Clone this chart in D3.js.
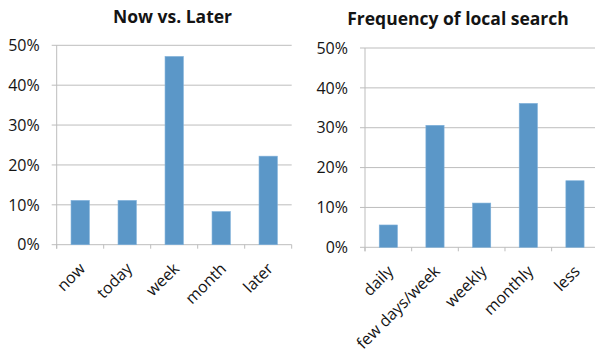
<!DOCTYPE html>
<html>
<head>
<meta charset="utf-8">
<script src="https://cdn.jsdelivr.net/npm/d3@7"></script>
<style>
  html, body { margin: 0; padding: 0; background: #fff; }
  svg { display: block; }
  text { font-family: "Open Sans", Lato, sans-serif; fill: #141414; }
</style>
</head>
<body>
<svg id="chart" width="595" height="356"></svg>
<script>
// Survey shares (fraction of respondents)
const timingCategories = ["now", "today", "week", "month", "later"];
const timingValues = [0.111, 0.111, 0.472, 0.083, 0.222];

const frequencyCategories = ["daily", "few days/week", "weekly", "monthly", "less"];
const frequencyValues = [0.056, 0.306, 0.111, 0.361, 0.167];

const yTicks = [0, 0.1, 0.2, 0.3, 0.4, 0.5];
const yTickLabels = ["0%", "10%", "20%", "30%", "40%", "50%"];

const svg = d3.select("#chart");

function drawPanel(cfg) {
  const g = svg.append("g");
  const x = d3.scaleBand()
    .domain(cfg.categories)
    .range([cfg.left, cfg.right])
    .paddingInner(0.61)
    .paddingOuter(0.305);
  const y = d3.scaleLinear().domain([0, 0.5]).range([cfg.bottom, cfg.top]);

  // horizontal gridlines
  g.append("g").selectAll("line").data(yTicks).join("line")
    .attr("x1", cfg.left - 5).attr("x2", cfg.gridEnd)
    .attr("y1", d => y(d)).attr("y2", d => y(d))
    .attr("stroke", "#bdbdbd").attr("stroke-width", 1);

  // value axis line
  g.append("line")
    .attr("x1", cfg.left).attr("x2", cfg.left)
    .attr("y1", y(0.5)).attr("y2", y(0) + 4)
    .attr("stroke", "#bdbdbd");

  // category tick marks at band boundaries
  const step = x.step();
  const bounds = d3.range(cfg.categories.length + 1).map(i => cfg.left + i * step);
  g.append("g").selectAll("line").data(bounds).join("line")
    .attr("x1", d => d).attr("x2", d => d)
    .attr("y1", y(0)).attr("y2", y(0) + 4)
    .attr("stroke", "#bdbdbd");

  // y tick labels
  g.append("g").selectAll("text").data(yTicks).join("text")
    .attr("x", cfg.left - 17)
    .attr("y", d => y(d))
    .attr("dy", "0.36em")
    .attr("text-anchor", "end")
    .style("font-size", "16px")
    .text((d, i) => yTickLabels[i]);

  // bars
  g.append("g").selectAll("rect").data(cfg.values).join("rect")
    .attr("x", (d, i) => x(cfg.categories[i]))
    .attr("width", x.bandwidth())
    .attr("y", d => y(d))
    .attr("height", d => y(0) - y(d))
    .attr("fill", "#5b97c8")
    .attr("stroke", "#7eb0da")
    .attr("stroke-width", 0.6);

  // rotated category labels
  g.append("g").selectAll("text").data(cfg.categories).join("text")
    .attr("transform", d => {
      const cx = x(d) + x.bandwidth() / 2 + 6;
      const cy = y(0) + 25;
      return `translate(${cx},${cy}) rotate(-45)`;
    })
    .attr("text-anchor", "end")
    .style("font-size", "16px")
    .text(d => d);

  // title
  g.append("text")
    .attr("x", cfg.titleX).attr("y", cfg.titleY)
    .attr("text-anchor", "middle")
    .style("font-size", "17.5px")
    .style("font-weight", "bold")
    .text(cfg.title);
}

drawPanel({
  title: "Now vs. Later", titleX: 172.5, titleY: 22.5,
  categories: timingCategories, values: timingValues,
  left: 56.7, right: 291.7, gridEnd: 291.7, top: 45.3, bottom: 244.7
});

drawPanel({
  title: "Frequency of local search", titleX: 458, titleY: 25,
  categories: frequencyCategories, values: frequencyValues,
  left: 365, right: 598.3, gridEnd: 595, top: 48, bottom: 247.3
});
</script>
</body>
</html>
